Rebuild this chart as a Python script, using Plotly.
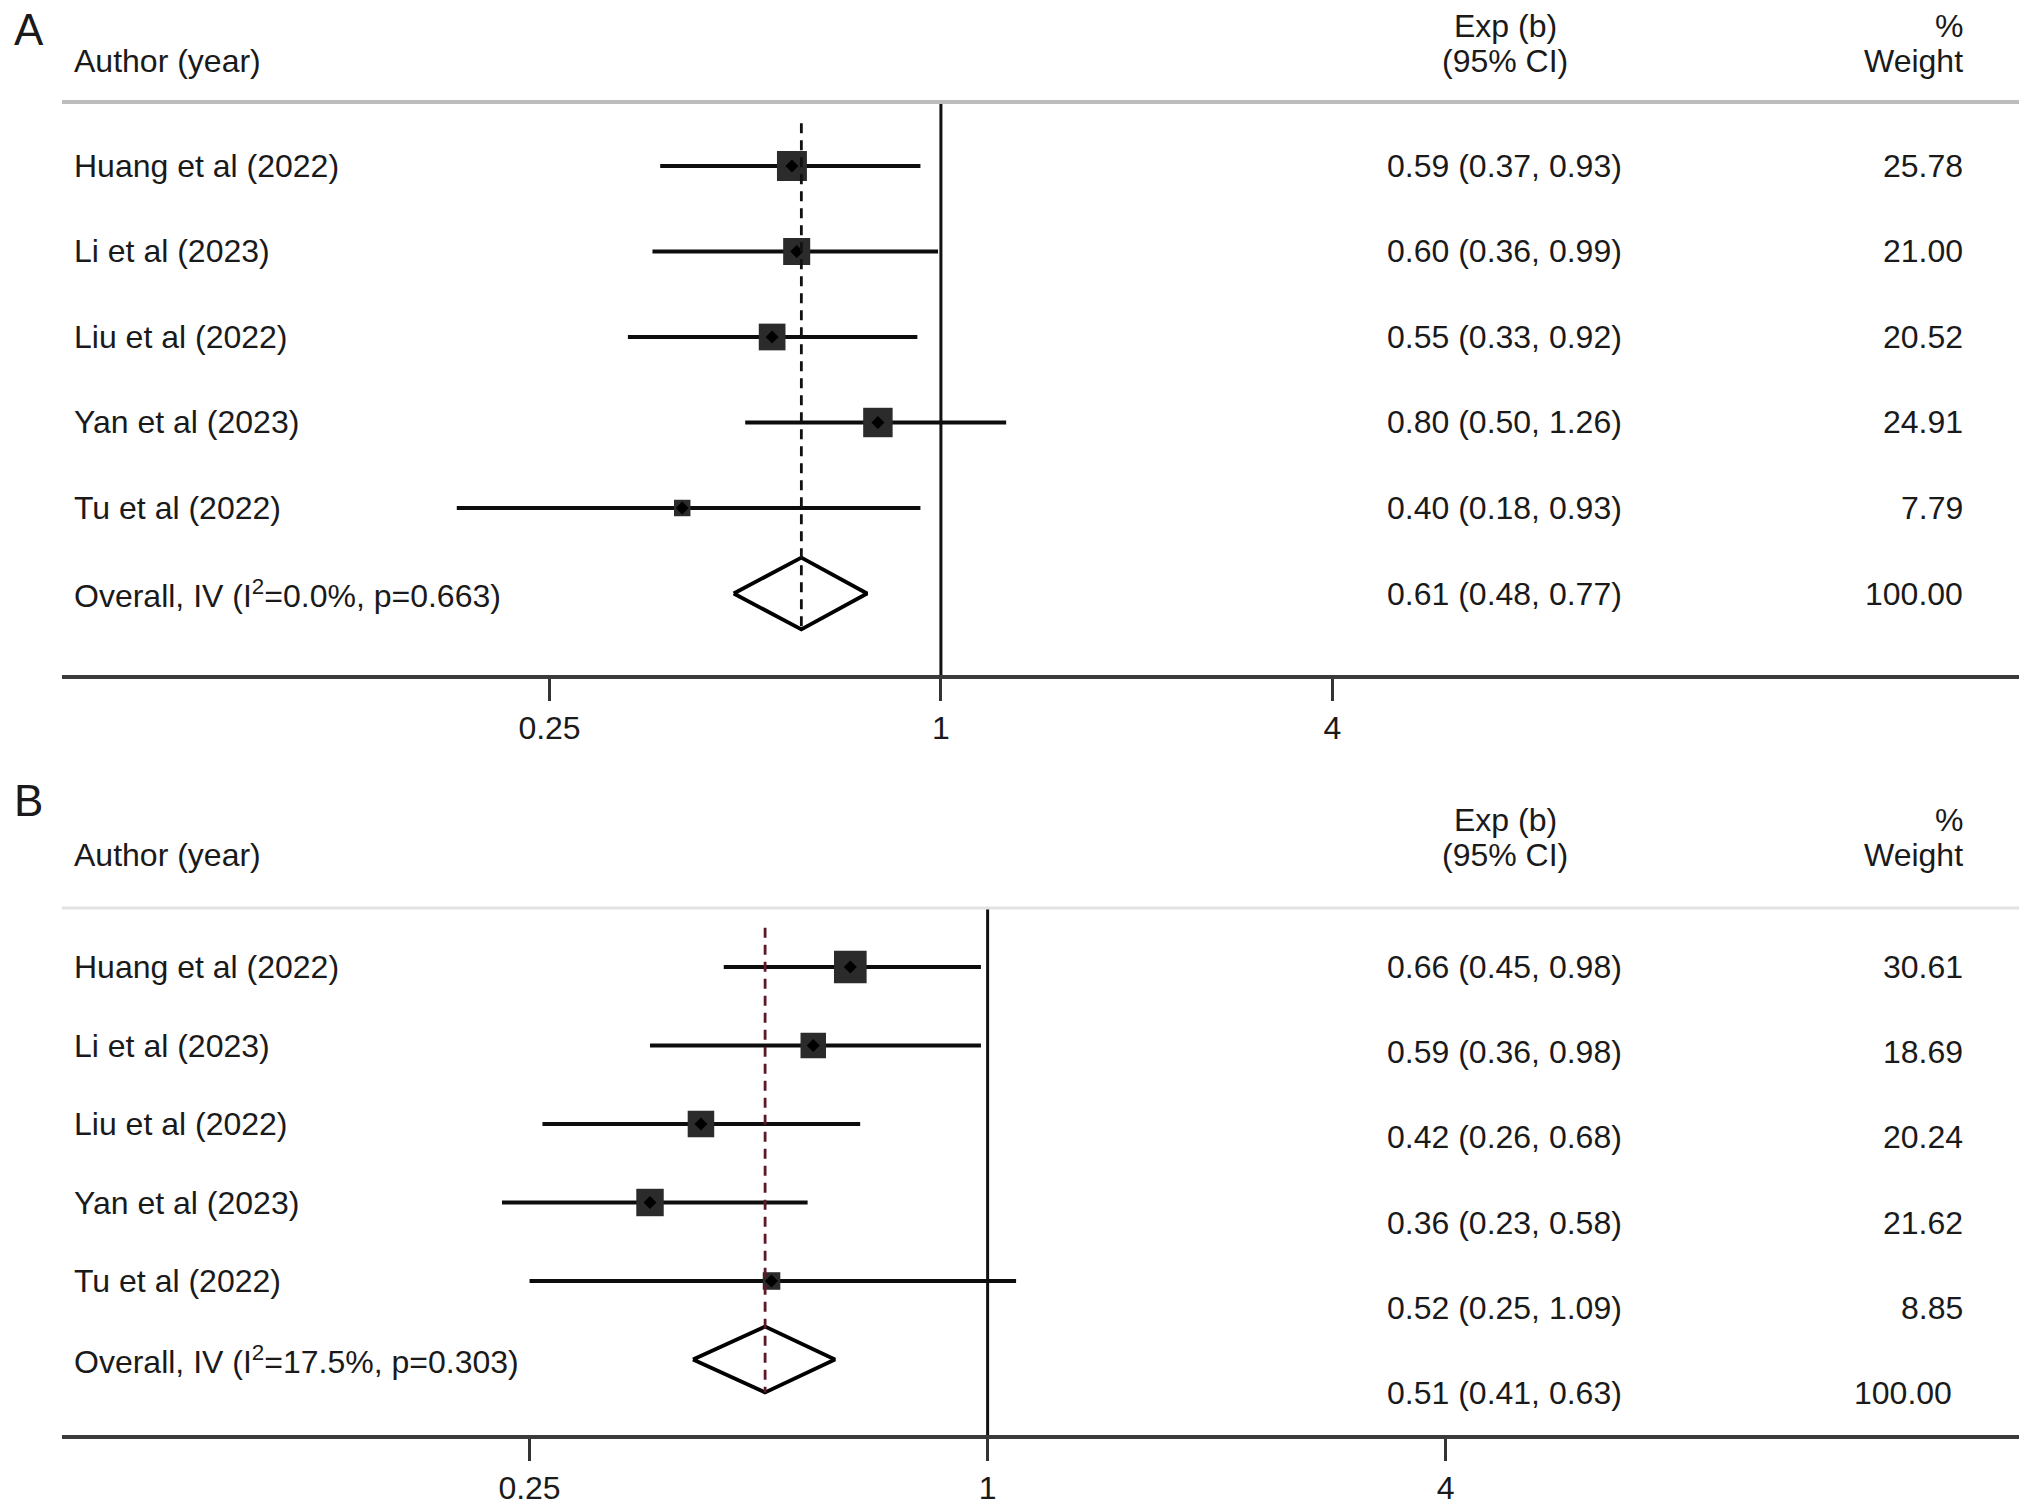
import math
import plotly.graph_objects as go

# study labels (same order in both panels)
studies = ["Huang et al (2022)", "Li et al (2023)", "Liu et al (2022)",
           "Yan et al (2023)", "Tu et al (2022)"]

# panel A
a_est = [0.59, 0.60, 0.55, 0.80, 0.40]
a_lo = [0.37, 0.36, 0.33, 0.50, 0.18]
a_hi = [0.93, 0.99, 0.92, 1.26, 0.93]
a_weight = [25.78, 21.00, 20.52, 24.91, 7.79]
a_overall = [0.61, 0.48, 0.77]
a_het = ["0.0%", "0.663"]

# panel B
b_est = [0.66, 0.59, 0.42, 0.36, 0.52]
b_lo = [0.45, 0.36, 0.26, 0.23, 0.25]
b_hi = [0.98, 0.98, 0.68, 0.58, 1.09]
b_weight = [30.61, 18.69, 20.24, 21.62, 8.85]
b_overall = [0.51, 0.41, 0.63]
b_het = ["17.5%", "0.303"]

tick_vals = [0.25, 1, 4]
tick_text = ["0.25", "1", "4"]

# page is 2032x1506, the figure sits at the default 8px body margin
OFF = 8
W, H = 2032 - OFF, 1506 - OFF
FONT = "Liberation Sans"
TXT = "#1a1a1a"
FS = 32


def px(x):
    return (x - OFF) / W


def py(y):
    return 1 - (y - OFF) / H


fig = go.Figure()
annotations = []
shapes = []


def panel(idx, letter, est, lo, hi, weight, overall, het,
          top, bottom, y_first, y_step, xrange, text_step, dash_color, head_color, head_w,
          last_weight_x, letter_y, head_y):
    xa = "x" if idx == 1 else "x2"
    ya = "y" if idx == 1 else "y2"
    n = len(est)
    rows = list(range(n))

    # confidence intervals + weighted boxes
    fig.add_trace(go.Scatter(
        x=est, y=rows, mode="markers", xaxis=xa, yaxis=ya,
        marker=dict(symbol="square", size=[5.9 * math.sqrt(w) for w in weight],
                    color="#2b2b2b", opacity=1, line=dict(width=0)),
        error_x=dict(type="data", symmetric=False,
                     array=[h - e for e, h in zip(est, hi)],
                     arrayminus=[e - l for e, l in zip(est, lo)],
                     color="#0d0d0d", thickness=4.2, width=0),
        hoverinfo="skip"))
    fig.add_trace(go.Scatter(
        x=est, y=rows, mode="markers", xaxis=xa, yaxis=ya,
        marker=dict(symbol="diamond", size=10, color="#000000"), hoverinfo="skip"))

    # overall diamond
    oe, ol, oh = overall
    hh = 0.42
    fig.add_trace(go.Scatter(
        x=[ol, oe, oh, oe, ol], y=[n, n - hh, n, n + hh, n], mode="lines",
        xaxis=xa, yaxis=ya, fill="toself", fillcolor="white",
        line=dict(color="#000000", width=3.8), hoverinfo="skip"))
    fig.add_trace(go.Scatter(
        x=[oe, oe], y=[-0.5, n + hh], mode="lines", xaxis=xa, yaxis=ya,
        line=dict(color=dash_color, width=2.8, dash="10px,7px"), hoverinfo="skip"))

    # null line
    shapes.append(dict(type="line", xref=xa, yref=ya + " domain", x0=1, x1=1, y0=0, y1=1,
                       line=dict(color="#111111", width=3)))
    # header rule
    shapes.append(dict(type="line", xref="paper", yref="paper", x0=px(62), x1=px(2019),
                       y0=py(top), y1=py(top), line=dict(color=head_color, width=head_w)))

    r_top = (top - y_first) / y_step
    r_bot = (bottom - y_first) / y_step

    # headers
    h1, h2 = head_y, head_y + 35
    annotations.append(dict(text=letter, xref="paper", yref="paper", x=px(12), y=py(letter_y),
                            xanchor="left", yanchor="middle", showarrow=False,
                            font=dict(size=44, color=TXT, family=FONT)))
    for t, x, y, anc in [("Author (year)", 72, h2, "left"), ("Exp (b)", 1505, h1, "center"),
                         ("(95% CI)", 1505, h2, "center"), ("%", 1965, h1, "right"),
                         ("Weight", 1965, h2, "right")]:
        annotations.append(dict(text=t, xref="paper", yref="paper", x=px(x), y=py(y),
                                xanchor=anc, yanchor="middle", showarrow=False,
                                font=dict(size=FS, color=TXT, family=FONT)))

    labels = studies + [f"Overall, IV (I<sup>2</sup>={het[0]}, p={het[1]})"]
    ci_text = [f"{e:.2f} ({l:.2f}, {h:.2f})" for e, l, h in zip(est, lo, hi)]
    ci_text.append(f"{oe:.2f} ({ol:.2f}, {oh:.2f})")
    w_text = [f"{w:.2f}" for w in weight] + ["100.00"]
    for i in range(n + 1):
        annotations.append(dict(text=labels[i], xref="paper", yref=ya, x=px(72), y=i,
                                xanchor="left", yanchor="middle", showarrow=False,
                                font=dict(size=FS, color=TXT, family=FONT)))
        annotations.append(dict(text=ci_text[i], xref="paper", yref=ya, x=px(1504),
                                y=i * text_step, xanchor="center", yanchor="middle",
                                showarrow=False, font=dict(size=FS, color=TXT, family=FONT)))
        wx = last_weight_x if i == n else 1965
        annotations.append(dict(text=w_text[i], xref="paper", yref=ya, x=px(wx),
                                y=i * text_step, xanchor="right", yanchor="middle",
                                showarrow=False, font=dict(size=FS, color=TXT, family=FONT)))

    axis_x = dict(type="log", domain=[px(62), px(2019)], range=xrange, anchor=ya,
                  showline=True, linewidth=4, linecolor="#3a3a3a", showgrid=False,
                  zeroline=False, tickvals=tick_vals, ticktext=tick_text, ticks="outside",
                  ticklen=22, tickwidth=3, tickcolor="#333333",
                  tickfont=dict(size=FS, color=TXT, family=FONT))
    axis_y = dict(domain=[py(bottom), py(top)], range=[r_bot, r_top], visible=False, anchor=xa)
    return axis_x, axis_y


ax1, ay1 = panel(1, "A", a_est, a_lo, a_hi, a_weight, a_overall, a_het,
                 top=102, bottom=675, y_first=166, y_step=85.5,
                 xrange=[-1.3520, 1.6584], text_step=1.0, dash_color="#111111",
                 head_color="#bcbcbc", head_w=4, last_weight_x=1965,
                 letter_y=30, head_y=26)
ax2, ay2 = panel(2, "B", b_est, b_lo, b_hi, b_weight, b_overall, b_het,
                 top=908, bottom=1435, y_first=967, y_step=78.5,
                 xrange=[-1.2165, 1.3555], text_step=1.085, dash_color="#5c1a28",
                 head_color="#e2e2e2", head_w=3, last_weight_x=1954,
                 letter_y=800, head_y=820)

fig.update_layout(
    width=W, height=H, margin=dict(l=0, r=0, t=0, b=0),
    paper_bgcolor="white", plot_bgcolor="white", showlegend=False,
    xaxis=ax1, yaxis=ay1, xaxis2=ax2, yaxis2=ay2,
    annotations=annotations, shapes=shapes,
)

fig.write_html("out.html")
